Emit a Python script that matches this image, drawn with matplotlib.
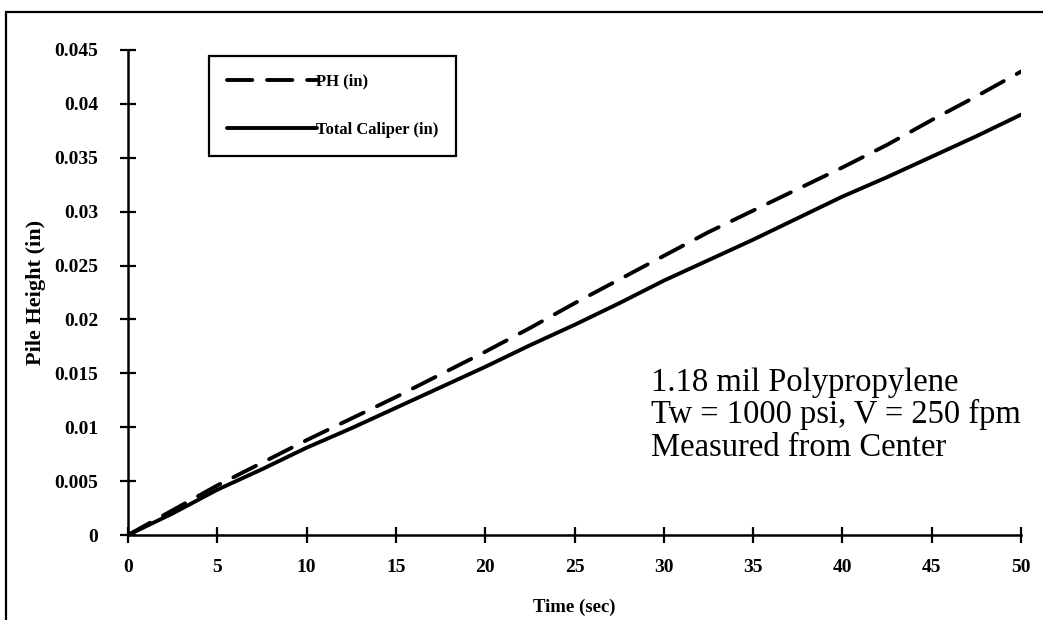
import matplotlib
matplotlib.use("Agg")
import matplotlib.pyplot as plt
from matplotlib.patches import Rectangle

# Pile height measurements vs. winding time
time_sec = [0, 2.5, 5, 7.5, 10, 12.5, 15, 17.5, 20, 22.5, 25, 27.5, 30, 32.5, 35, 37.5, 40, 42.5, 45, 47.5, 50]
ph_in = [0, 0.0023, 0.0046, 0.0067, 0.0088, 0.0108, 0.0128, 0.0149, 0.0170, 0.0192, 0.0215, 0.0237, 0.0259, 0.0281, 0.0301, 0.0321, 0.0341, 0.0362, 0.0385, 0.0407, 0.0430]
caliper_in = [0, 0.0020, 0.0042, 0.0061, 0.0081, 0.0099, 0.0118, 0.0137, 0.0156, 0.0176, 0.0195, 0.0215, 0.0236, 0.0255, 0.0274, 0.0294, 0.0314, 0.0332, 0.0351, 0.0370, 0.0390]

x_ticks = [0, 5, 10, 15, 20, 25, 30, 35, 40, 45, 50]
y_ticks = [0, 0.005, 0.01, 0.015, 0.02, 0.025, 0.03, 0.035, 0.04, 0.045]
y_tick_labels = ["0", "0.005", "0.01", "0.015", "0.02", "0.025", "0.03", "0.035", "0.04", "0.045"]

note_lines = ["1.18 mil Polypropylene", "Tw = 1000 psi, V = 250 fpm", "Measured from Center"]

plt.rcParams["font.family"] = ["Liberation Serif", "DejaVu Serif"]

W, H = 1043, 620
fig = plt.figure(figsize=(W / 100, H / 100), dpi=100)
fig.patch.set_facecolor("white")

# outer border of the chart area
fig.patches.append(Rectangle((6 / W, -0.05), 1.2, 1 - 12 / H + 0.05,
                             transform=fig.transFigure, fill=False,
                             edgecolor="black", linewidth=1.6))

ax = fig.add_axes([128 / W, 1 - 535 / H, (1021 - 128) / W, (535 - 50) / H])

ax.plot(time_sec, ph_in, color="black", linewidth=2.8,
        dashes=(6.5, 3.8), dash_capstyle="round", label="PH (in)")
ax.plot(time_sec, caliper_in, color="black", linewidth=2.8,
        solid_capstyle="round", label="Total Caliper (in)")

ax.set_xlim(0, 50)
ax.set_ylim(0, 0.045)
ax.set_xticks(x_ticks)
ax.set_xticklabels([str(v) for v in x_ticks])
ax.set_yticks(y_ticks)
ax.set_yticklabels(y_tick_labels)

for side in ("top", "right"):
    ax.spines[side].set_visible(False)
for side in ("left", "bottom"):
    ax.spines[side].set_linewidth(1.8)
    ax.spines[side].set_color("black")

ax.tick_params(axis="both", direction="inout", length=11, width=1.6,
               colors="black", labelsize=14)
ax.tick_params(axis="y", pad=16)
ax.tick_params(axis="x", pad=12)
for lab in ax.get_xticklabels() + ax.get_yticklabels():
    lab.set_fontweight("bold")

ax.set_xlabel("Time (sec)", fontsize=13.5, fontweight="bold", labelpad=16)
ax.set_ylabel("Pile Height (in)", fontsize=16, fontweight="bold", labelpad=6)

leg = ax.legend(loc="upper left", bbox_to_anchor=((209 - 128) / (1021 - 128), 1 - (56 - 50) / (535 - 50)),
                frameon=True, fancybox=False, edgecolor="black", framealpha=1,
                prop={"weight": "bold", "size": 12}, handlelength=5.4,
                handletextpad=0.0, labelspacing=1.95, borderpad=1.05,
                borderaxespad=0)
leg.get_frame().set_linewidth(1.6)

note = fig.text(651 / W, 1 - 367 / H, "\n".join(note_lines), fontsize=23.5,
                ha="left", va="top", linespacing=1.08, color="black",
                transform=fig.transFigure)

fig.savefig("out.png", dpi=100, facecolor="white")
